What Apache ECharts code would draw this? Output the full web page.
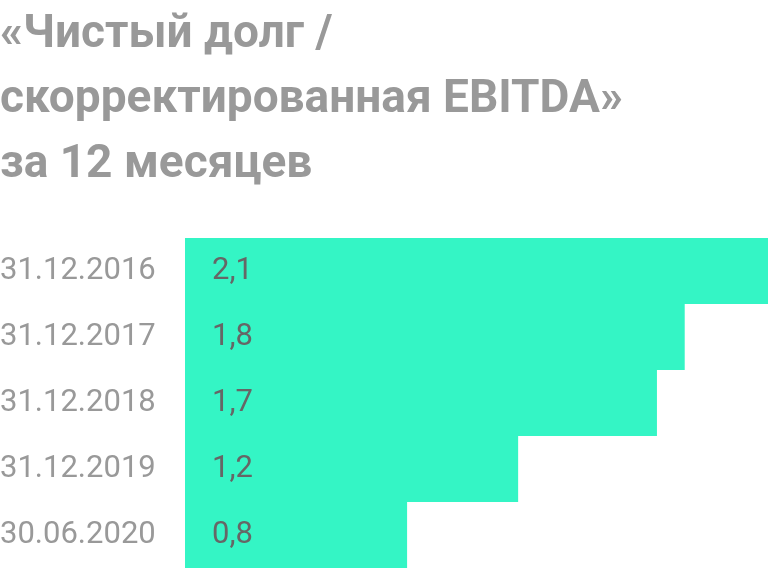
<!DOCTYPE html>
<html>
<head>
<meta charset="utf-8">
<script src="https://cdn.jsdelivr.net/npm/echarts@6/dist/echarts.min.js"></script>
<style>
  html, body { margin: 0; padding: 0; background: #fff; }
  #chart { width: 768px; height: 572px; }
</style>
</head>
<body>
<div id="chart"></div>
<script>
var titleText = "«Чистый долг /\nскорректированная EBITDA»\nза 12 месяцев";
var categories = ["31.12.2016", "31.12.2017", "31.12.2018", "31.12.2019", "30.06.2020"];
var values = [2.1, 1.8, 1.7, 1.2, 0.8];

var chart = echarts.init(document.getElementById("chart"), null, { renderer: "canvas" });

var option = {
    animation: false,
    title: {
        text: titleText,
        left: 0,
        top: 3,
        padding: 0,
        textStyle: {
            fontFamily: "Roboto",
            fontWeight: "bold",
            fontSize: 46,
            lineHeight: 65,
            color: "#999999"
        }
    },
    grid: {
        left: 185,
        right: 0,
        top: 238,
        height: 330,
        containLabel: false,
        outerBoundsMode: "none"
    },
    xAxis: {
        type: "value",
        min: 0,
        max: 2.1,
        show: false
    },
    yAxis: {
        type: "category",
        inverse: true,
        data: categories,
        axisLine: { show: false },
        axisTick: { show: false },
        axisLabel: {
            align: "left",
            margin: 185,
            padding: [5, 0, 0, 0],
            fontFamily: "Roboto",
            fontSize: 31,
            color: "#999999"
        }
    },
    series: [{
        type: "bar",
        data: values,
        barCategoryGap: 0,
        itemStyle: { color: "#34F5C5" },
        label: {
            show: true,
            position: "insideLeft",
            distance: 27,
            padding: [5, 0, 0, 0],
            fontFamily: "Roboto",
            fontSize: 31,
            color: "#666666",
            formatter: function (p) {
                return String(p.value).replace(".", ",");
            }
        }
    }]
};

chart.setOption(option);
</script>
</body>
</html>
